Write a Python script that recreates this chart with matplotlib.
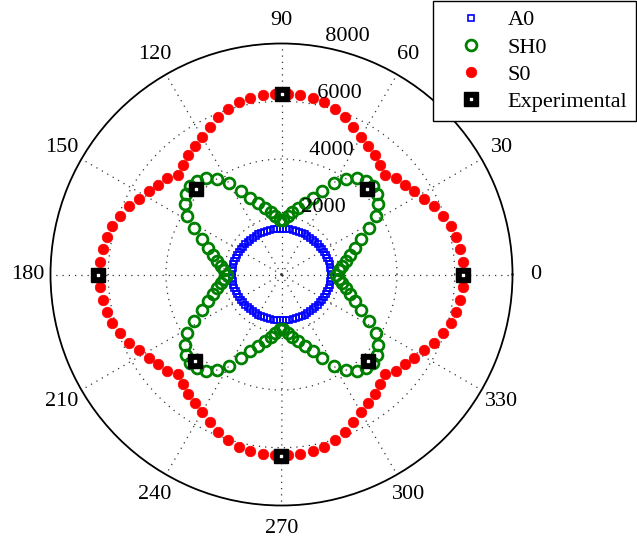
import numpy as np
import matplotlib
matplotlib.use("Agg")
import matplotlib.pyplot as plt

plt.rcParams['font.family'] = ['Liberation Serif', 'DejaVu Serif']

# Angles (deg) of the tabulated first-quadrant values
quad_angles = list(range(0, 90, 4))

# velocities (m/s) for 0..88 deg, mirrored to the other quadrants
a0_quad = [1720, 1718, 1712, 1705, 1695, 1685, 1672, 1660, 1650, 1640, 1632, 1625,
           1620, 1615, 1610, 1605, 1600, 1597, 1594, 1591, 1589, 1587, 1586]
sh0_quad = [1900, 2000, 2130, 2290, 2480, 2720, 3030, 3420, 3850, 4150, 4330, 4400,
            4370, 4250, 4000, 3640, 3220, 2870, 2600, 2380, 2190, 2030, 1900]
s0_quad = [6300, 6290, 6260, 6190, 6090, 5960, 5790, 5600, 5430, 5300, 5180, 4970,
           5100, 5240, 5370, 5490, 5670, 5870, 6030, 6140, 6210, 6250, 6260]

exp_angles = [0, 45, 90, 135, 180, 225, 270, 315]
exp_values = [6300, 4200, 6250, 4200, 6350, 4250, 6280, 4250]

r_ticks = [2000, 4000, 6000]
r_max = 8000
theta_labels = ['0', '30', '60', '90', '120', '150', '180', '210', '240', '270', '300', '330']

FS = 16


def full_circle(quad):
    ang = list(quad_angles)
    val = list(quad)
    ang2 = [180 - a for a in quad_angles[1:]][::-1]
    val2 = quad[1:][::-1]
    ang_h = ang + ang2
    val_h = val + val2
    ang_all = ang_h + [a + 180 for a in ang_h]
    val_all = val_h + val_h
    return np.deg2rad(ang_all), np.array(val_all)


W, H = 637, 544
fig = plt.figure(figsize=(W / 100, H / 100), dpi=100)
cx, cy, R = 281.5, 274.5, 231
ax = fig.add_axes([(cx - R) / W, (H - cy - R) / H, 2 * R / W, 2 * R / H], projection='polar')
ax.set_ylim(0, r_max)

# grid
ax.set_rgrids(r_ticks, labels=[''] * len(r_ticks))
ax.set_thetagrids(np.arange(0, 360, 30), labels=[''] * 12)
ax.grid(True, color='#333333', linestyle=(0, (1, 4)), linewidth=0.9)
ax.spines['polar'].set_color('black')
ax.spines['polar'].set_linewidth(1.3)
ax.tick_params(length=0)

th, v = full_circle(a0_quad)
h_a0, = ax.plot(th, v, linestyle='none', marker='s', markersize=4.2, markerfacecolor='none',
                markeredgecolor='#0000ff', markeredgewidth=1.2, label='A0', clip_on=False)
th, v = full_circle(sh0_quad)
h_sh0, = ax.plot(th, v, linestyle='none', marker='o', markersize=7.8, markerfacecolor='none',
                 markeredgecolor='#008000', markeredgewidth=2.0, label='SH0', clip_on=False)
th, v = full_circle(s0_quad)
h_s0, = ax.plot(th, v, linestyle='none', marker='o', markersize=7.6, markerfacecolor='#ff0000',
                markeredgecolor='#ff0000', markeredgewidth=0.5, label='S0', clip_on=False)
ea = np.deg2rad(exp_angles)
h_exp, = ax.plot(ea, exp_values, linestyle='none', marker='s', markersize=10.5,
                 markerfacecolor='black', markeredgecolor='black', label='Experimental', clip_on=False)
h_dot, = ax.plot(ea, exp_values, linestyle='none', marker='s', markersize=1.6,
                 markerfacecolor='white', markeredgecolor='white', clip_on=False)

# radial labels (MATLAB style)
for r in r_ticks + [r_max]:
    ax.text(np.deg2rad(82), r, '  ' + str(r), ha='left', va='bottom', fontsize=FS)

# angular labels
for a, lab in zip(range(0, 360, 30), theta_labels):
    ax.text(np.deg2rad(a), 1.1 * r_max, lab, ha='center', va='center', fontsize=FS, clip_on=False)

leg = fig.legend([h_a0, h_sh0, h_s0, (h_exp, h_dot)], ['A0', 'SH0', 'S0', 'Experimental'],
                 loc='upper right', bbox_to_anchor=(636 / W, 1 - 1 / H), fontsize=FS,
                 frameon=True, fancybox=False, edgecolor='black', framealpha=1,
                 borderaxespad=0, labelspacing=0.3, handlelength=2.6, handletextpad=0.35,
                 borderpad=0.4)
leg.get_frame().set_linewidth(1.0)

fig.savefig('out.png', dpi=100)
